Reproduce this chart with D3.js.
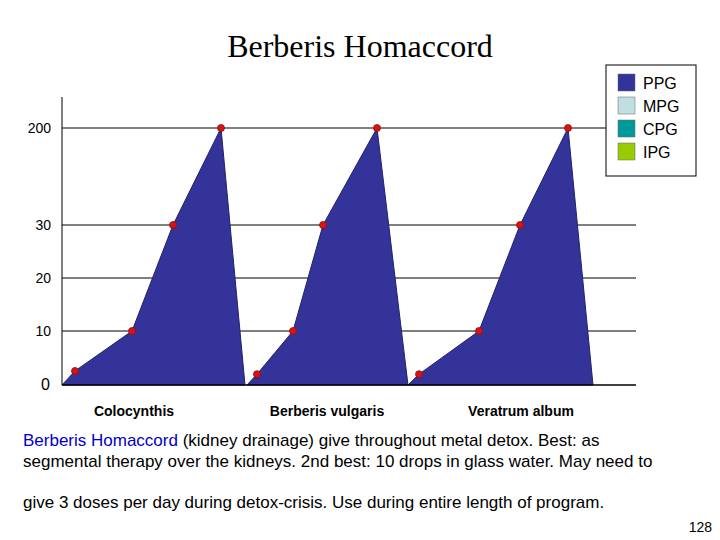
<!DOCTYPE html>
<html><head><meta charset="utf-8">
<script src="https://cdn.jsdelivr.net/npm/d3@7"></script>
<style>body{margin:0;background:#fff}</style>
</head><body>
<svg id="chart" width="720" height="540"></svg>
<script>
const categories = ['Colocynthis', 'Berberis vulgaris', 'Veratrum album'];
const series = ['PPG', 'MPG', 'CPG', 'IPG'];
const seriesColors = ['#333399', '#c0dfe3', '#009999', '#99cc00'];
const values = [[2.6, 10, 30, 200], [2, 10, 30, 200], [2, 10, 30, 200]];
// horizontal positions along the axis (axis units 0..574)
const pointPos = [[13, 70, 111, 159], [195, 231, 261, 315], [357, 417, 458, 506]];
const groupStart = [0, 185, 346];
const groupEnd = [183, 346, 531];
const labelPos = [72, 265, 459];
const yTicks = [0, 10, 20, 30, 200];

const svg = d3.select('#chart');
const x = d3.scaleLinear().domain([0, 574]).range([62, 636]);
const y = d3.scalePiecewise ? null : d3.scaleLinear().domain([0, 10, 20, 30, 200]).range([385, 331, 278, 225, 128]);

svg.append('text').attr('x', 360).attr('y', 57).attr('text-anchor', 'middle')
  .style('font-family', 'Liberation Serif, Times New Roman, serif').style('font-size', '32px')
  .text('Berberis Homaccord');

// gridlines
svg.selectAll('line.grid').data(yTicks.slice(1)).enter().append('line')
  .attr('x1', x(0)).attr('x2', x(574)).attr('y1', d => y(d)).attr('y2', d => y(d))
  .style('stroke', '#000').style('stroke-width', 1);

// areas
const line = d3.line().x(d => x(d[0])).y(d => y(d[1]));
values.forEach((vals, i) => {
  const pts = [[groupStart[i], 0]].concat(vals.map((v, j) => [pointPos[i][j], v]), [[groupEnd[i], 0]]);
  svg.append('path').attr('d', line(pts) + 'Z').style('fill', '#333399').style('stroke', '#222266').style('stroke-width', 1);
  svg.selectAll(null).data(vals).enter().append('circle')
    .attr('cx', (d, j) => x(pointPos[i][j])).attr('cy', d => y(d)).attr('r', 3.5)
    .style('fill', '#dd1111').style('stroke', '#881111').style('stroke-width', 0.8);
});

// axes
svg.append('line').attr('x1', x(0)).attr('x2', x(0)).attr('y1', 97).attr('y2', y(0)).style('stroke', '#000');
svg.append('line').attr('x1', x(0)).attr('x2', x(574)).attr('y1', y(0)).attr('y2', y(0)).style('stroke', '#000').style('stroke-width', 1.5);

svg.selectAll('text.yt').data(yTicks).enter().append('text')
  .attr('x', d => d === 0 ? 50 : 51).attr('y', d => y(d) + 5).attr('text-anchor', 'end')
  .style('font-family', 'Liberation Sans, Arial, sans-serif').style('font-size', d => d === 0 ? '16px' : '14px')
  .text(d => d);

svg.selectAll('text.xl').data(categories).enter().append('text')
  .attr('x', (d, i) => x(labelPos[i])).attr('y', 416).attr('text-anchor', 'middle')
  .style('font-family', 'Liberation Sans, Arial, sans-serif').style('font-size', '14px').style('font-weight', 'bold')
  .text(d => d);

// legend
const lg = svg.append('g');
lg.append('rect').attr('x', 606).attr('y', 65).attr('width', 90).attr('height', 111).style('fill', '#fff').style('stroke', '#000');
series.forEach((s, i) => {
  lg.append('rect').attr('x', 618).attr('y', 74 + i * 23).attr('width', 17).attr('height', 17)
    .style('fill', seriesColors[i]).style('stroke', '#666').style('stroke-width', 0.5);
  lg.append('text').attr('x', 643).attr('y', 89 + i * 23)
    .style('font-family', 'Liberation Sans, Arial, sans-serif').style('font-size', '16px').text(s);
});

// description
const desc = svg.append('text').style('font-family', 'Liberation Sans, Arial, sans-serif').style('font-size', '17px');
const l1 = desc.append('tspan').attr('x', 23).attr('y', 446);
l1.append('tspan').style('fill', '#0000cc').text('Berberis Homaccord');
l1.append('tspan').text(' (kidney drainage) give throughout metal detox.  Best: as');
desc.append('tspan').attr('x', 23).attr('y', 491 - 24).text('segmental therapy over the kidneys. 2nd best: 10 drops in glass water. May need to');
desc.append('tspan').attr('x', 23).attr('y', 508).text('give 3 doses per day during detox-crisis. Use during entire length of program.');

svg.append('text').attr('x', 712).attr('y', 532).attr('text-anchor', 'end')
  .style('font-family', 'Liberation Sans, Arial, sans-serif').style('font-size', '14px').text('128');
</script>
</body></html>
